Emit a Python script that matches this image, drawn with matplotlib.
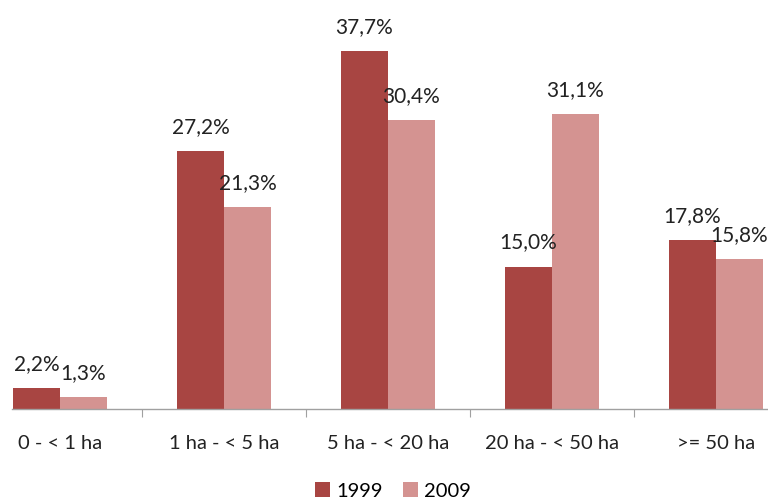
import matplotlib
matplotlib.use("Agg")
import matplotlib.pyplot as plt
import numpy as np

categories = ["0 - < 1 ha", "1 ha - < 5 ha", "5 ha - < 20 ha", "20 ha - < 50 ha", ">= 50 ha"]
series_names = ["1999", "2009"]
values_1999 = [2.2, 27.2, 37.7, 15.0, 17.8]
values_2009 = [1.3, 21.3, 30.4, 31.1, 15.8]
colors = ["#A84542", "#D49391"]

plt.rcParams['font.family'] = ['Lato', 'DejaVu Sans']

fig = plt.figure(figsize=(7.68, 5.0), dpi=100)
# axes: pixel x 12..768, pixel y 0..409
ax = fig.add_axes([12/768, 1 - 409/500, (768-12)/768, 409/500])

x = np.arange(len(categories))
w = 47/164
b1 = ax.bar(x - w/2, values_1999, w, color=colors[0], label=series_names[0])
b2 = ax.bar(x + w/2, values_2009, w, color=colors[1], label=series_names[1])

for bars, vals in ((b1, values_1999), (b2, values_2009)):
    for rect, v in zip(bars, vals):
        ax.annotate(f"{v:.1f}%".replace(".", ","),
                    (rect.get_x() + rect.get_width()/2, rect.get_height()),
                    xytext=(0, 13), textcoords="offset points",
                    ha="center", va="baseline", fontsize=15, color="#222222",
                    annotation_clip=False)

ax.set_xlim((12-60)/164, (768-60)/164)
ax.set_ylim(0, 409/9.496)

for s in ("top", "right", "left"):
    ax.spines[s].set_visible(False)
ax.spines["bottom"].set_color("#A0A0A0")
ax.spines["bottom"].set_linewidth(1.0)
ax.set_yticks([])

ax.set_xticks(x[:-1] + 0.5)
ax.set_xticklabels([])
ax.tick_params(axis="x", which="major", length=6, color="#A0A0A0", direction="out")
ax.set_xticks(x, minor=True)
ax.set_xticklabels(categories, minor=True, fontsize=14.5, color="#222222")
ax.tick_params(axis="x", which="minor", length=0, pad=19)

fig.legend(handles=[b1, b2], labels=series_names, loc="center",
           bbox_to_anchor=(393/768, 1 - 491/500), ncol=2, frameon=False,
           fontsize=14.5, handlelength=0.75, handleheight=0.75, handletextpad=0.3,
           columnspacing=1.0)

fig.savefig("out.png", dpi=100)
